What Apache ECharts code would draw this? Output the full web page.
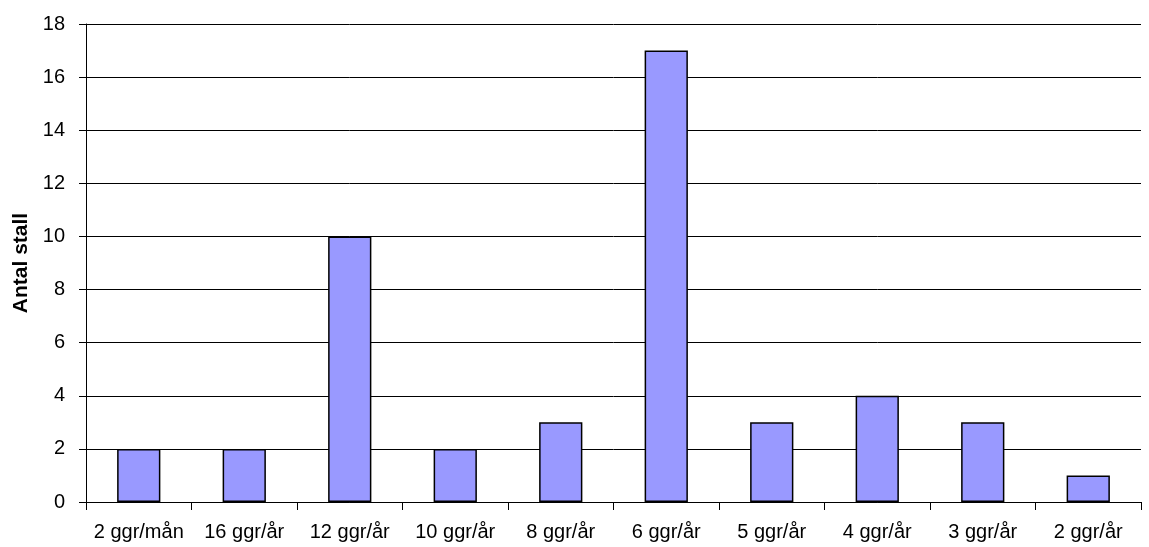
<!DOCTYPE html>
<html><head><meta charset="utf-8">
<script src="https://cdn.jsdelivr.net/npm/echarts@6/dist/echarts.min.js"></script>
<style>html,body{margin:0;padding:0;background:#fff}#c{width:1149px;height:547px}</style>
</head><body><div id="c"></div>
<script>
const categories = ['2 ggr/mån','16 ggr/år','12 ggr/år','10 ggr/år','8 ggr/år','6 ggr/år','5 ggr/år','4 ggr/år','3 ggr/år','2 ggr/år'];
const values = [2,2,10,2,3,17,3,4,3,1];
const yTitle = 'Antal stall';
const chart = echarts.init(document.getElementById('c'));
chart.setOption({
  animation:false,
  grid:{left:86,top:24,right:8,bottom:45},
  xAxis:{type:'category',data:categories,
    axisLine:{lineStyle:{color:'#000',width:1}},
    axisTick:{show:true,length:8,lineStyle:{color:'#000'}},
    axisLabel:{color:'#000',fontFamily:'Liberation Sans, Arial',fontSize:20,margin:20,interval:0}},
  yAxis:{type:'value',min:0,max:18,interval:2,
    name:yTitle,nameLocation:'middle',nameGap:54,
    nameTextStyle:{color:'#000',fontFamily:'Liberation Sans, Arial',fontSize:21,fontWeight:'bold'},
    axisLine:{show:true,lineStyle:{color:'#000'}},
    axisTick:{show:true,length:7,lineStyle:{color:'#000'}},
    axisLabel:{color:'#000',fontFamily:'Liberation Sans, Arial',fontSize:20,margin:21},
    splitLine:{lineStyle:{color:'#000',width:1}}},
  series:[{type:'bar',data:values,barWidth:'41%',
    itemStyle:{color:'#9999FF',borderColor:'#000',borderWidth:1.5}}]
});
</script></body></html>
